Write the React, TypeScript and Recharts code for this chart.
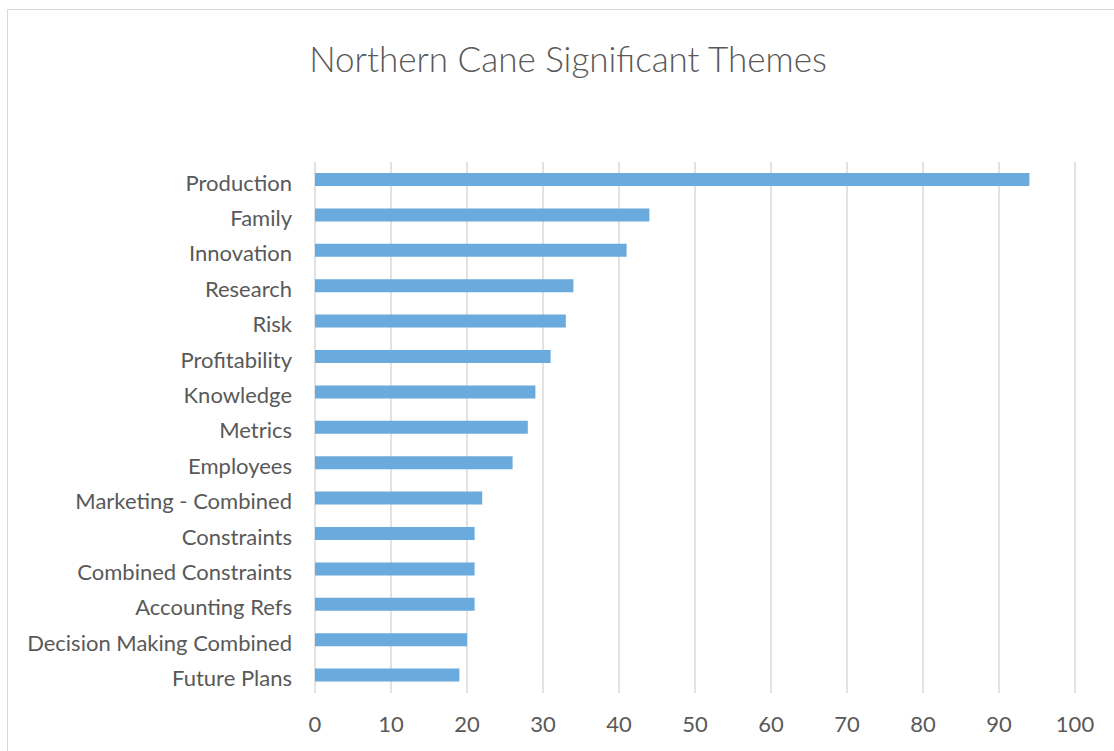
import { Bar, BarChart, CartesianGrid, XAxis, YAxis } from "recharts";

const themes = [
  "Production",
  "Family",
  "Innovation",
  "Research",
  "Risk",
  "Profitability",
  "Knowledge",
  "Metrics",
  "Employees",
  "Marketing - Combined",
  "Constraints",
  "Combined Constraints",
  "Accounting Refs",
  "Decision Making Combined",
  "Future Plans",
];

const counts = [94, 44, 41, 34, 33, 31, 29, 28, 26, 22, 21, 21, 21, 20, 19];

const xTicks = [0, 10, 20, 30, 40, 50, 60, 70, 80, 90, 100];

const data = themes.map((name, i) => ({ name, value: counts[i] }));

const FONT = "Lato, 'Open Sans', sans-serif";
const TEXT = "#595959";

export default function App() {
  return (
    <div
      style={{
        position: "fixed",
        top: 0,
        left: 0,
        width: 1114,
        height: 751,
        background: "#fff",
        overflow: "hidden",
        fontFamily: FONT,
      }}
    >
      <div
        style={{
          position: "absolute",
          left: 7,
          top: 9,
          width: 1130,
          height: 780,
          border: "1.5px solid #d9d9d9",
        }}
      />
      <div
        style={{
          position: "absolute",
          left: 0,
          top: 35,
          width: 1136,
          textAlign: "center",
          fontSize: 35,
          fontWeight: 300,
          color: TEXT,
          lineHeight: "46px",
        }}
      >
        Northern Cane Significant Themes
      </div>
      <div style={{ position: "absolute", left: 0, top: 0 }}>
        <BarChart
          width={1114}
          height={751}
          data={data}
          layout="vertical"
          margin={{ top: 162, right: 39, bottom: 18, left: 0 }}
        >
          <CartesianGrid
            horizontal={false}
            stroke="#d9d9d9"
            strokeWidth={1.5}
          />
          <XAxis
            type="number"
            domain={[0, 100]}
            ticks={xTicks}
            axisLine={false}
            tickLine={false}
            tickSize={0}
            tickMargin={23}
            height={40}
            tick={{ fontSize: 22, fill: TEXT, fontFamily: FONT }}
          />
          <YAxis
            type="category"
            dataKey="name"
            width={315}
            axisLine={false}
            tickLine={false}
            tickSize={0}
            tickMargin={23}
            interval={0}
            tick={{ fontSize: 22, fill: TEXT, fontFamily: FONT, dy: 3 }}
          />
          <Bar
            dataKey="value"
            fill="#6aaadd"
            barSize={13}
            isAnimationActive={false}
          />
        </BarChart>
      </div>
    </div>
  );
}
